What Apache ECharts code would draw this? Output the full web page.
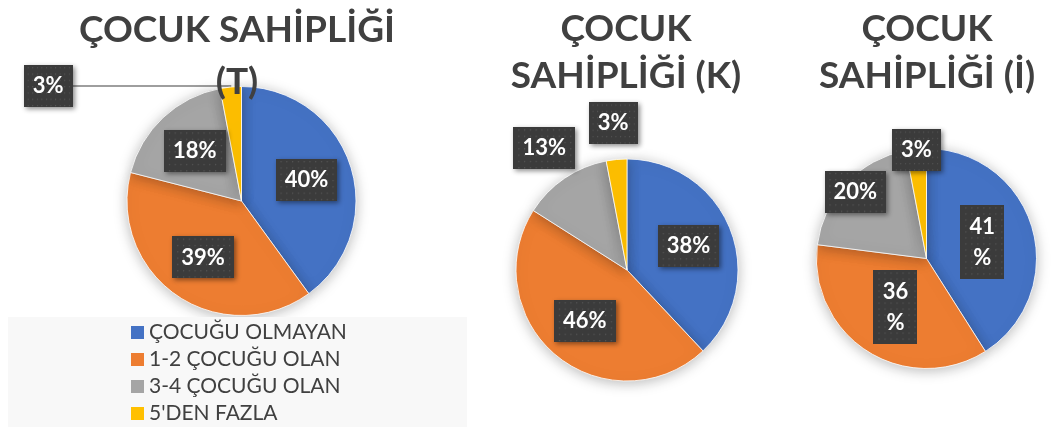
<!DOCTYPE html>
<html><head><meta charset="utf-8">
<script src="https://cdn.jsdelivr.net/npm/echarts@6/dist/echarts.min.js"></script>
<style>html,body{margin:0;padding:0;background:#fff}#c{width:1056px;height:427px}</style>
</head><body><div id="c"></div>
<script>
const categories = ['ÇOCUĞU OLMAYAN', '1-2 ÇOCUĞU OLAN', '3-4 ÇOCUĞU OLAN', "5'DEN FAZLA"];
const valuesT = [40, 39, 18, 3];
const valuesK = [38, 46, 13, 3];
const valuesI = [41, 36, 20, 3];
const titleT = 'ÇOCUK SAHİPLİĞİ\n(T)';
const titleK = 'ÇOCUK\nSAHİPLİĞİ (K)';
const titleI = 'ÇOCUK\nSAHİPLİĞİ (İ)';

const colors = ['#4472C4', '#ED7D31', '#A5A5A5', '#FFC000'];
const FONT = 'Lato';

// dotted dark label background
function dotCanvas(w, h) {
  const c = document.createElement('canvas');
  c.width = w; c.height = h;
  const g = c.getContext('2d');
  g.fillStyle = '#3b3b3b'; g.fillRect(0, 0, w, h);
  g.fillStyle = '#555555';
  for (let y = 2; y < h; y += 6) for (let x = ((y / 6) % 2 ? 5 : 2); x < w; x += 6) g.fillRect(x, y, 1.3, 1.3);
  return c;
}
const bgWide = dotCanvas(64, 40);
const bgTall = dotCanvas(44, 74);

const labelBase = {
  color: '#fff', fontFamily: FONT, fontWeight: 'bold', fontSize: 22,
  backgroundColor: { image: bgWide }, padding: [10, 9, 10, 9],
  shadowColor: 'rgba(0,0,0,0.45)', shadowBlur: 5, shadowOffsetX: 2, shadowOffsetY: 2
};

function pieData(values) {
  return categories.map((n, i) => ({ name: n, value: values[i] }));
}

// visible pie (no labels except optional outside ones)
function visiblePie(values, center, R, outside) {
  return {
    type: 'pie', center: center, radius: [0, R], startAngle: 90, clockwise: true,
    avoidLabelOverlap: false, silent: true, animation: false,
    itemStyle: { borderColor: '#fff', borderWidth: 0.8, shadowBlur: 14, shadowColor: 'rgba(0,0,0,0.28)', shadowOffsetY: 2 },
    data: pieData(values).map((d, i) => {
      const o = outside && outside[i];
      d.label = o ? Object.assign({}, labelBase, { show: true, position: 'outside', formatter: '{d}%', distanceToLabelLine: 0 }) : { show: false };
      d.labelLine = o ? { show: true, length: 1, length2: o, lineStyle: { color: '#7f7f7f', width: 1.3 } } : { show: false };
      return d;
    })
  };
}

// invisible carrier pie that places labels at a given radial fraction
function labelPie(values, center, R, frac, which, tall) {
  const mid = frac * R;
  return {
    type: 'pie', center: center, radius: [mid - 2, mid + 2], startAngle: 90, clockwise: true,
    avoidLabelOverlap: false, silent: true, animation: false,
    itemStyle: { color: 'rgba(0,0,0,0)' },
    labelLine: { show: false },
    data: pieData(values).map((d, i) => {
      d.label = which.indexOf(i) >= 0
        ? Object.assign({}, labelBase, { show: true, position: 'inside', formatter: '{d}%' },
            tall ? { width: 26, overflow: 'breakAll', lineHeight: 31, backgroundColor: { image: bgTall }, padding: [6, 9, 6, 9] } : {})
        : { show: false };
      return d;
    })
  };
}

const cT = [241.5, 201], rT = 114.5;
const cK = [627, 270], rK = 111;
const cI = [926.5, 258.5], rI = 110;

const titleStyle = (lh) => ({ fontFamily: FONT, fontWeight: 'bold', fontSize: 37, color: '#404040', lineHeight: lh });

const option = {
  animation: false,
  color: colors,
  title: [
    { text: titleT, left: 237, top: 4, textAlign: 'center', padding: 0, textStyle: titleStyle(52) },
    { text: titleK, left: 626, top: 6, textAlign: 'center', padding: 0, textStyle: titleStyle(47) },
    { text: titleI, left: 927, top: 6, textAlign: 'center', padding: 0, textStyle: titleStyle(47) }
  ],
  legend: {
    orient: 'vertical', left: 8, top: 317, height: 200, data: categories,
    icon: 'rect', itemWidth: 13, itemHeight: 13, itemGap: 6, itemStyle: { borderWidth: 0 },
    backgroundColor: '#f8f8f8', padding: [5, 120, 4, 123],
    textStyle: { fontFamily: FONT, fontSize: 21, color: '#404040', lineHeight: 20 },
    selectedMode: false
  },
  series: [
    visiblePie(valuesT, cT, rT, [0, 0, 0, 158]),
    labelPie(valuesT, cT, rT, 0.57, [0, 1, 2], false),
    visiblePie(valuesK, cK, rK, null),
    labelPie(valuesK, cK, rK, 0.57, [0, 1], false),
    labelPie(valuesK, cK, rK, 1.3, [2, 3], false),
    visiblePie(valuesI, cI, rI, null),
    labelPie(valuesI, cI, rI, 0.5, [0, 1], true),
    labelPie(valuesI, cI, rI, 0.86, [2], false),
    labelPie(valuesI, cI, rI, 0.96, [3], false)
  ]
};
const chart = echarts.init(document.getElementById('c'), null, { renderer: 'canvas' });
chart.setOption(option);
</script></body></html>
